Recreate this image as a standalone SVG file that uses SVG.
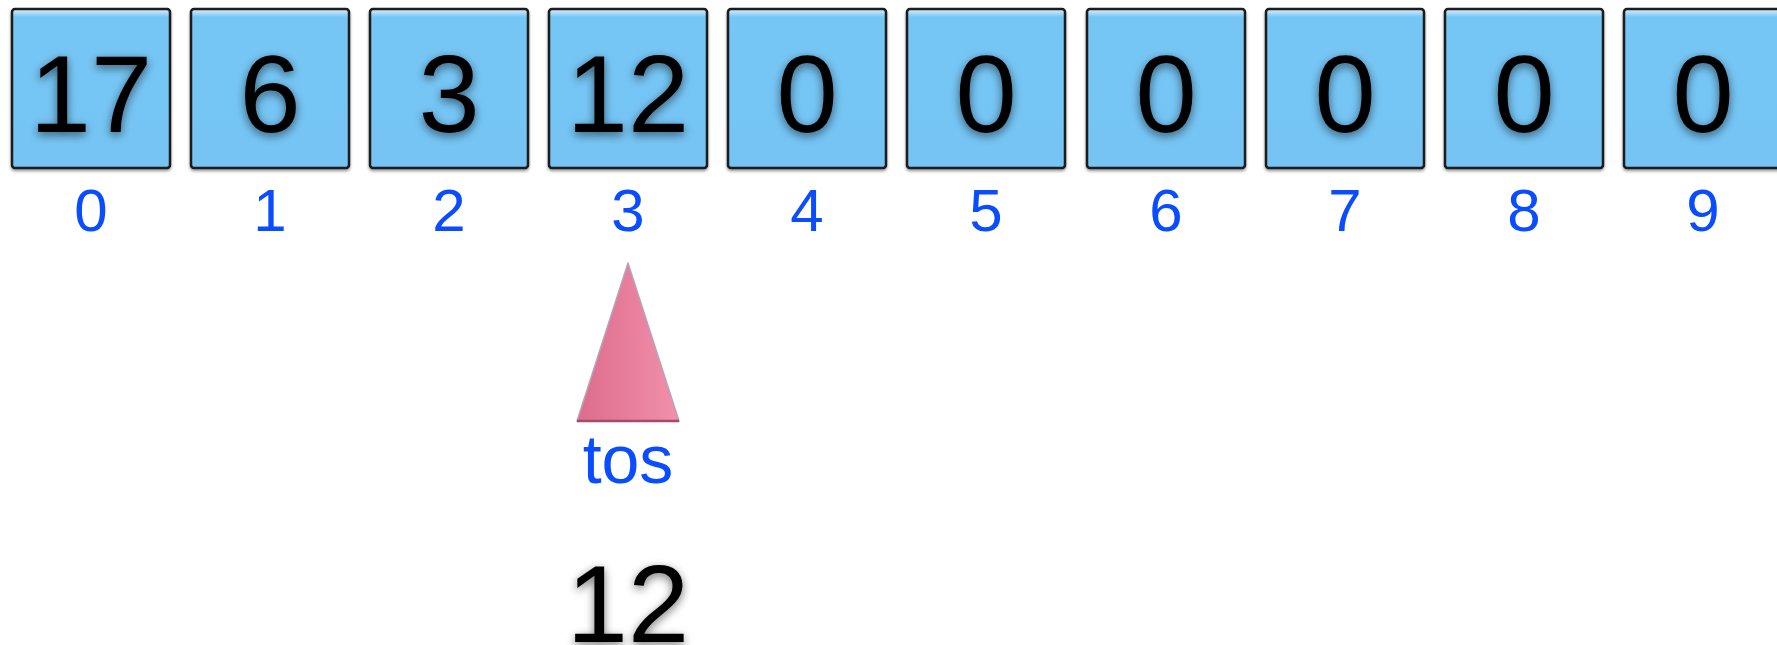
<svg xmlns="http://www.w3.org/2000/svg" width="1777" height="645" viewBox="0 0 1777 645">
<style>
.box{fill:url(#boxg);stroke:#1a1a1a;stroke-width:2.5}
.val{font-family:"Liberation Sans",Arial,sans-serif;font-size:110px;fill:#000;text-anchor:middle;filter:url(#glow)}
.idx{font-family:"Liberation Sans",Arial,sans-serif;font-size:60px;fill:#0a4cff;text-anchor:middle}
</style>
<defs>
<linearGradient id="boxg" x1="0" y1="0" x2="0" y2="1">
<stop offset="0" stop-color="#dff1fc"/>
<stop offset="0.05" stop-color="#76c6f5"/>
<stop offset="1" stop-color="#74c4f4"/>
</linearGradient>
<linearGradient id="trig" x1="0" y1="0" x2="1" y2="0">
<stop offset="0" stop-color="#dc6c8c"/>
<stop offset="1" stop-color="#f290aa"/>
</linearGradient>
<filter id="glow" x="-30%" y="-30%" width="160%" height="160%">
<feGaussianBlur in="SourceAlpha" stdDeviation="5" result="b"/>
<feOffset in="b" dx="0" dy="3" result="o"/>
<feComponentTransfer in="o" result="s"><feFuncA type="linear" slope="0.55"/></feComponentTransfer>
<feMerge><feMergeNode in="s"/><feMergeNode in="SourceGraphic"/></feMerge>
</filter>
<filter id="bshadow" x="-10%" y="-10%" width="120%" height="120%">
<feGaussianBlur in="SourceAlpha" stdDeviation="1.5" result="b"/>
<feOffset in="b" dx="0" dy="2" result="o"/>
<feComponentTransfer in="o" result="s"><feFuncA type="linear" slope="0.4"/></feComponentTransfer>
<feMerge><feMergeNode in="s"/><feMergeNode in="SourceGraphic"/></feMerge>
</filter>
</defs>
<g id="cell0"><rect class="box" x="12" y="9" width="158" height="159" rx="3" filter="url(#bshadow)"/><text class="val" x="91" y="132">17</text><text class="idx" x="91" y="231">0</text></g>
<g id="cell1"><rect class="box" x="191" y="9" width="158" height="159" rx="3" filter="url(#bshadow)"/><text class="val" x="270" y="132">6</text><text class="idx" x="270" y="231">1</text></g>
<g id="cell2"><rect class="box" x="370" y="9" width="158" height="159" rx="3" filter="url(#bshadow)"/><text class="val" x="449" y="132">3</text><text class="idx" x="449" y="231">2</text></g>
<g id="cell3"><rect class="box" x="549" y="9" width="158" height="159" rx="3" filter="url(#bshadow)"/><text class="val" x="628" y="132">12</text><text class="idx" x="628" y="231">3</text></g>
<g id="cell4"><rect class="box" x="728" y="9" width="158" height="159" rx="3" filter="url(#bshadow)"/><text class="val" x="807" y="132">0</text><text class="idx" x="807" y="231">4</text></g>
<g id="cell5"><rect class="box" x="907" y="9" width="158" height="159" rx="3" filter="url(#bshadow)"/><text class="val" x="986" y="132">0</text><text class="idx" x="986" y="231">5</text></g>
<g id="cell6"><rect class="box" x="1087" y="9" width="158" height="159" rx="3" filter="url(#bshadow)"/><text class="val" x="1166" y="132">0</text><text class="idx" x="1166" y="231">6</text></g>
<g id="cell7"><rect class="box" x="1266" y="9" width="158" height="159" rx="3" filter="url(#bshadow)"/><text class="val" x="1345" y="132">0</text><text class="idx" x="1345" y="231">7</text></g>
<g id="cell8"><rect class="box" x="1445" y="9" width="158" height="159" rx="3" filter="url(#bshadow)"/><text class="val" x="1524" y="132">0</text><text class="idx" x="1524" y="231">8</text></g>
<g id="cell9"><rect class="box" x="1624" y="9" width="158" height="159" rx="3" filter="url(#bshadow)"/><text class="val" x="1703" y="132">0</text><text class="idx" x="1703" y="231">9</text></g>
<g id="tos">
<polygon points="628,263 679,421 577,421" fill="url(#trig)" stroke="#b9a3b8" stroke-width="1.5" stroke-linejoin="round"/>
<line x1="577" y1="421" x2="679" y2="421" stroke="#a84a66" stroke-width="2.5"/>
<text x="628" y="483" font-family="Liberation Sans, Arial, sans-serif" font-size="68" fill="#0a4cff" text-anchor="middle">tos</text>
</g>
<g id="popped"><text class="val" x="628" y="642">12</text></g>
</svg>
